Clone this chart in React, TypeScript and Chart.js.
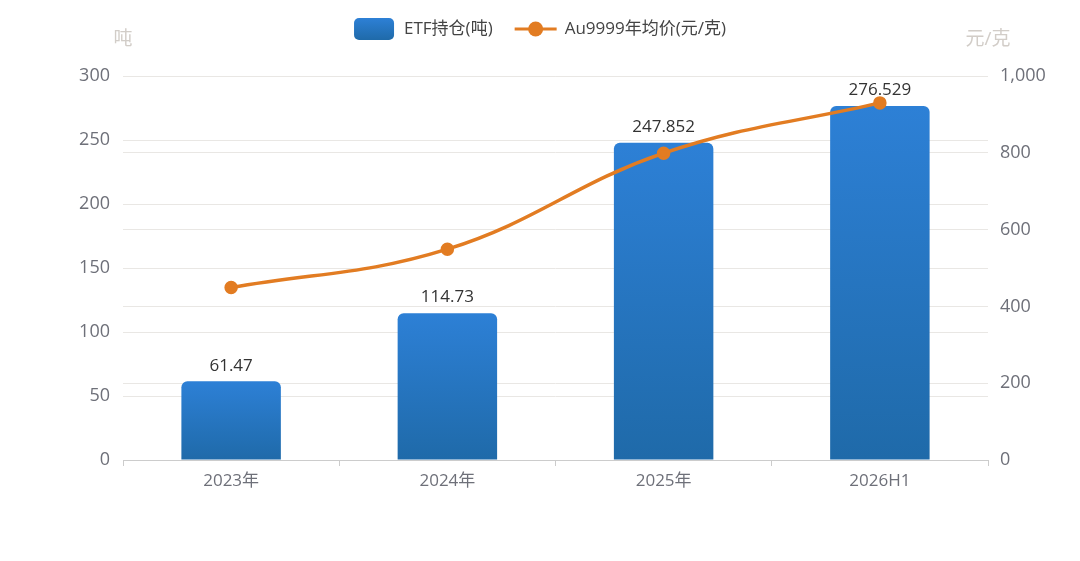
import React, { useRef, useEffect } from 'react';
import { Chart, registerables } from 'chart.js';

Chart.register(...registerables);

const categories = ['2023年', '2024年', '2025年', '2026H1'];
const etfHoldings = [61.47, 114.73, 247.852, 276.529];
const goldPrice = [449, 549, 799, 930];

const FONT = '"Open Sans", "Noto Sans CJK SC", sans-serif';

const barLabels = {
  id: 'barLabels',
  afterDatasetsDraw(chart: any) {
    const { ctx } = chart;
    const meta = chart.getDatasetMeta(0);
    ctx.save();
    ctx.font = `17px ${FONT}`;
    ctx.fillStyle = '#333';
    ctx.textAlign = 'center';
    ctx.textBaseline = 'bottom';
    meta.data.forEach((bar: any, i: number) => {
      ctx.fillText(String(etfHoldings[i]), bar.x, bar.y - 7);
    });
    ctx.restore();
  },
};

const axisTitles = {
  id: 'axisTitles',
  afterDraw(chart: any) {
    const { ctx, chartArea } = chart;
    ctx.save();
    ctx.font = `19px ${FONT}`;
    ctx.fillStyle = '#d2cdc8';
    ctx.textAlign = 'center';
    ctx.textBaseline = 'middle';
    ctx.fillText('吨', chartArea.left, 40);
    ctx.fillText('元/克', chartArea.right, 40);
    ctx.restore();
  },
};

const legendPlugin = {
  id: 'customLegend',
  afterDraw(chart: any) {
    const { ctx, width } = chart;
    const y = 29;
    const t1 = 'ETF持仓(吨)';
    const t2 = 'Au9999年均价(元/克)';
    ctx.save();
    ctx.font = `17px ${FONT}`;
    const w1 = ctx.measureText(t1).width;
    const w2 = ctx.measureText(t2).width;
    const total = 40 + 10 + w1 + 22 + 42 + 8 + w2;
    let x = width / 2 - total / 2;

    const g = ctx.createLinearGradient(0, y - 11, 0, y + 11);
    g.addColorStop(0, '#2d80d6');
    g.addColorStop(1, '#1f6aa9');
    ctx.fillStyle = g;
    ctx.beginPath();
    ctx.roundRect(x, y - 11, 40, 22, 5);
    ctx.fill();
    x += 50;

    ctx.fillStyle = '#444';
    ctx.textBaseline = 'middle';
    ctx.textAlign = 'left';
    ctx.fillText(t1, x, y);
    x += w1 + 22;

    ctx.strokeStyle = '#e27c22';
    ctx.lineWidth = 3;
    ctx.beginPath();
    ctx.moveTo(x, y);
    ctx.lineTo(x + 42, y);
    ctx.stroke();
    ctx.fillStyle = '#e27c22';
    ctx.beginPath();
    ctx.arc(x + 21, y, 7.5, 0, Math.PI * 2);
    ctx.fill();
    x += 50;

    ctx.fillStyle = '#444';
    ctx.fillText(t2, x, y);
    ctx.restore();
  },
};

const App: React.FC = () => {
  const canvas = useRef<HTMLCanvasElement>(null);

  useEffect(() => {
    if (!canvas.current) return;
    const ctx = canvas.current.getContext('2d');
    if (!ctx) return;

    const chart = new Chart(ctx, {
      type: 'bar',
      data: {
        labels: categories,
        datasets: [
          {
            type: 'bar',
            label: 'ETF持仓(吨)',
            data: etfHoldings,
            yAxisID: 'y',
            backgroundColor: (c: any) => {
              const scale = c.chart.scales?.y;
              if (!c.chart.chartArea || !scale || c.raw == null) return '#2776c4';
              const top = scale.getPixelForValue(c.raw);
              const bottom = scale.getPixelForValue(0);
              const g = c.chart.ctx.createLinearGradient(0, top, 0, bottom);
              g.addColorStop(0, '#2d80d6');
              g.addColorStop(1, '#1f6aa9');
              return g;
            },
            borderRadius: { topLeft: 6, topRight: 6, bottomLeft: 0, bottomRight: 0 },
            borderSkipped: false,
            barPercentage: 0.46,
            categoryPercentage: 1,
            order: 2,
          },
          {
            type: 'line',
            label: 'Au9999年均价(元/克)',
            data: goldPrice,
            yAxisID: 'y1',
            borderColor: '#e27c22',
            backgroundColor: '#e27c22',
            borderWidth: 3.5,
            pointRadius: 5,
            pointHoverRadius: 5,
            tension: 0.4,
            order: 1,
          },
        ],
      },
      options: {
        animation: false,
        responsive: true,
        maintainAspectRatio: false,
        layout: { padding: { top: 76, bottom: 61, left: 0, right: 0 } },
        plugins: {
          legend: { display: false },
          tooltip: { enabled: false },
        },
        scales: {
          x: {
            offset: true,
            grid: {
              offset: true,
              drawOnChartArea: false,
              drawTicks: true,
              tickLength: 6,
              color: '#ccc',
            },
            border: { display: true, color: '#ccc' },
            ticks: {
              color: '#6e7079',
              font: { family: FONT, size: 17 },
              padding: 5,
            },
            afterFit: (s: any) => {
              s.height = 40;
            },
          },
          y: {
            position: 'left',
            min: 0,
            max: 300,
            ticks: {
              stepSize: 50,
              color: '#6e7079',
              font: { family: FONT, size: 18 },
              padding: 13,
            },
            grid: { color: '#e9e7e4', drawTicks: false },
            border: { display: false },
            afterFit: (s: any) => {
              s.width = 123;
            },
          },
          y1: {
            position: 'right',
            min: 0,
            max: 1000,
            ticks: {
              stepSize: 200,
              color: '#6e7079',
              font: { family: FONT, size: 18 },
              padding: 12,
            },
            grid: { color: '#e9e7e4', drawTicks: false },
            border: { display: false },
            afterFit: (s: any) => {
              s.width = 92;
            },
          },
        },
      },
      plugins: [barLabels, axisTitles, legendPlugin],
    });

    return () => chart.destroy();
  }, []);

  return (
    <div style={{ position: 'absolute', left: 0, top: 0, width: 1080, height: 561, background: '#fff' }}>
      <canvas ref={canvas}></canvas>
    </div>
  );
};

export default App;
